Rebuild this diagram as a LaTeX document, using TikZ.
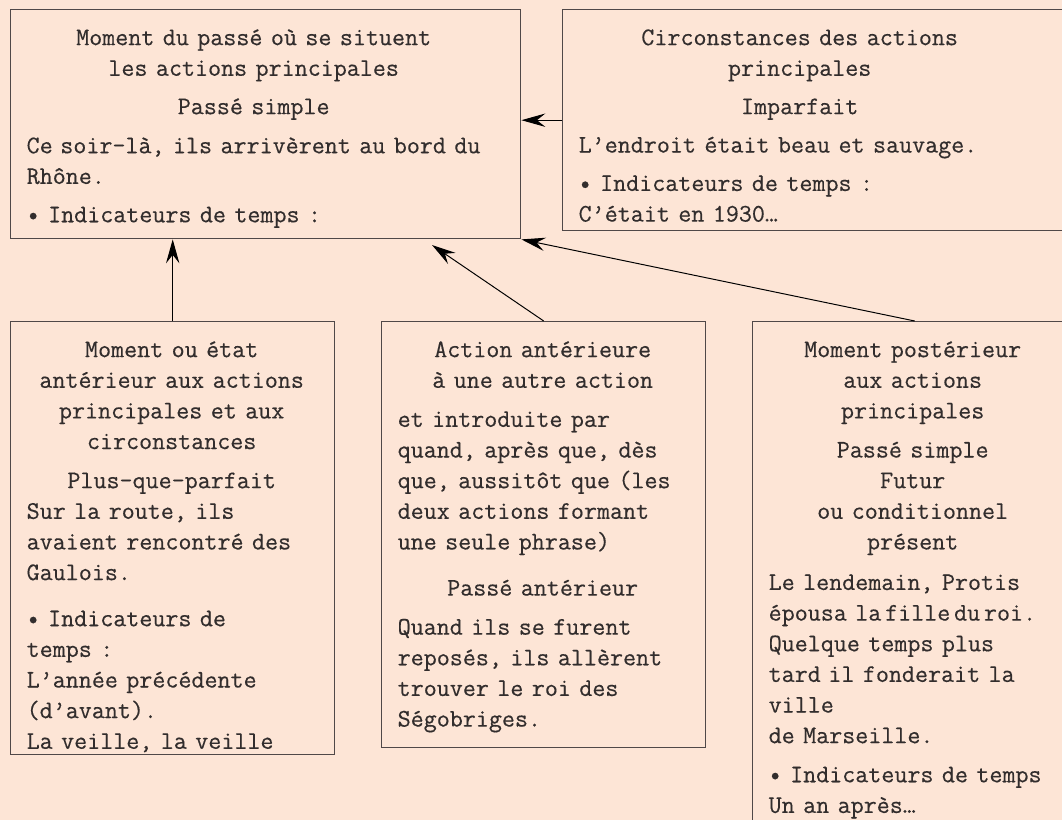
\documentclass[tikz,border=0pt]{standalone}
\usepackage{fontspec}
\setmonofont{Latin Modern Mono}[FakeBold=0.4]
\usepackage{tikz}
\usetikzlibrary{positioning, arrows.meta}
\definecolor{fond}{RGB}{253,229,214}
\definecolor{trait}{RGB}{80,72,72}
\definecolor{encre}{RGB}{50,45,45}
\begin{document}
\begin{tikzpicture}[
		cadre/.style = {draw = trait, line width = 1pt, rectangle, anchor = north west, inner sep = 0pt},
		texte/.style = {anchor = north west, inner xsep = 0.41cm, inner ysep = 0.36cm, text = encre, font = \ttfamily\fontsize{18}{21.8}\selectfont},
		fleche/.style = {draw = black, line width = 0.7pt, -{Stealth[length = 17pt, width = 9.5pt, inset = 6pt]}}
	]
		\useasboundingbox (0, 0) rectangle (26.55, -20.5);
		\fill[fond] (0, 0) rectangle (26.55, -20.5);
		\clip (0, 0) rectangle (26.55, -20.5);
		\node[cadre, minimum width = 12.75cm, minimum height = 5.725cm] (passe) at (0.25, -0.225) {};
		\node[cadre, minimum width = 13.2cm, minimum height = 5.525cm] (circ) at (14.05, -0.225) {};
		\node[cadre, minimum width = 8.1cm, minimum height = 10.825cm] (avant) at (0.25, -8.025) {};
		\node[cadre, minimum width = 8.1cm, minimum height = 10.65cm] (anter) at (9.525, -8.025) {};
		\node[cadre, minimum width = 8.1cm, minimum height = 13cm] (apres) at (18.8, -8.025) {};
		\node[texte, text width = 11.35cm] (passetxt) at (passe.north west) {\raggedright
			{\centering\strut Moment du passé où se situent\\ les actions principales\\[5.5pt] Passé simple\par}
			\vspace{6pt}\mbox{Ce\hspace{0.3em}soir-là, ils arrivèrent au bord du}\\ Rhône.\\[5.5pt] \textbullet{} Indicateurs de temps :};
		\node[texte, text width = 11.05cm] (circtxt) at (circ.north west) {\raggedright
			{\centering\strut Circonstances des actions\\ principales\\[5.5pt] Imparfait\par}
			\vspace{5.5pt}L’endroit était beau et sauvage.\\[5.5pt] \textbullet{} Indicateurs de temps :\\ C’était en 1930…};
		\node[texte, text width = 7.25cm] (avanttxt) at (avant.north west) {\raggedright
			{\centering\strut Moment ou état\\ antérieur aux actions\\ principales et aux\\ circonstances\\[6pt] Plus-que-parfait\par}
			Sur la route, ils\\ avaient rencontré des\\ Gaulois.\\[11pt] \textbullet{} Indicateurs de\\ temps :\\ L’année précédente\\ (d’avant).\\ La veille, la veille};
		\node[texte, text width = 7.25cm] (antertxt) at (anter.north west) {\raggedright
			{\centering\strut Action antérieure\\ à une autre action\par}
			\vspace{6pt}et introduite par\\ quand, après que, dès\\ que, aussitôt que (les\\ deux actions formant\\ une seule phrase)\par
			{\centering\vspace{11pt}Passé antérieur\par}
			\vspace{6pt}Quand ils se furent\\ reposés, ils allèrent\\ trouver le roi des\\ Ségobriges.};
		\node[texte, text width = 7.2cm] (aprestxt) at (apres.north west) {\raggedright
			{\centering\strut Moment postérieur\\ aux actions\\ principales\\[6pt] Passé simple\\ Futur\\ ou conditionnel\\ présent\par}
			\vspace{7pt}Le lendemain, Protis\\ \mbox{épousa la\hspace{0.15em}fille\hspace{0.15em}du\hspace{0.15em}roi.}\\ Quelque temps plus\\ tard\hspace{0.3em}il fonderait la\\ ville\\ de Marseille.\\[6pt] \textbullet{} Indicateurs de temps\\ Un an après…};
		\coordinate (pointe) at (10.8, -6.125);
		\draw[fleche] (circ.west) -- (circ.west -| passe.east);
		\draw[fleche] (avant.north) -- (avant.north |- passe.south);
		\draw[fleche] (anter.north) -- (pointe);
		\draw[fleche] (apres.north) -- (passe.south east);
\end{tikzpicture}
\end{document}
